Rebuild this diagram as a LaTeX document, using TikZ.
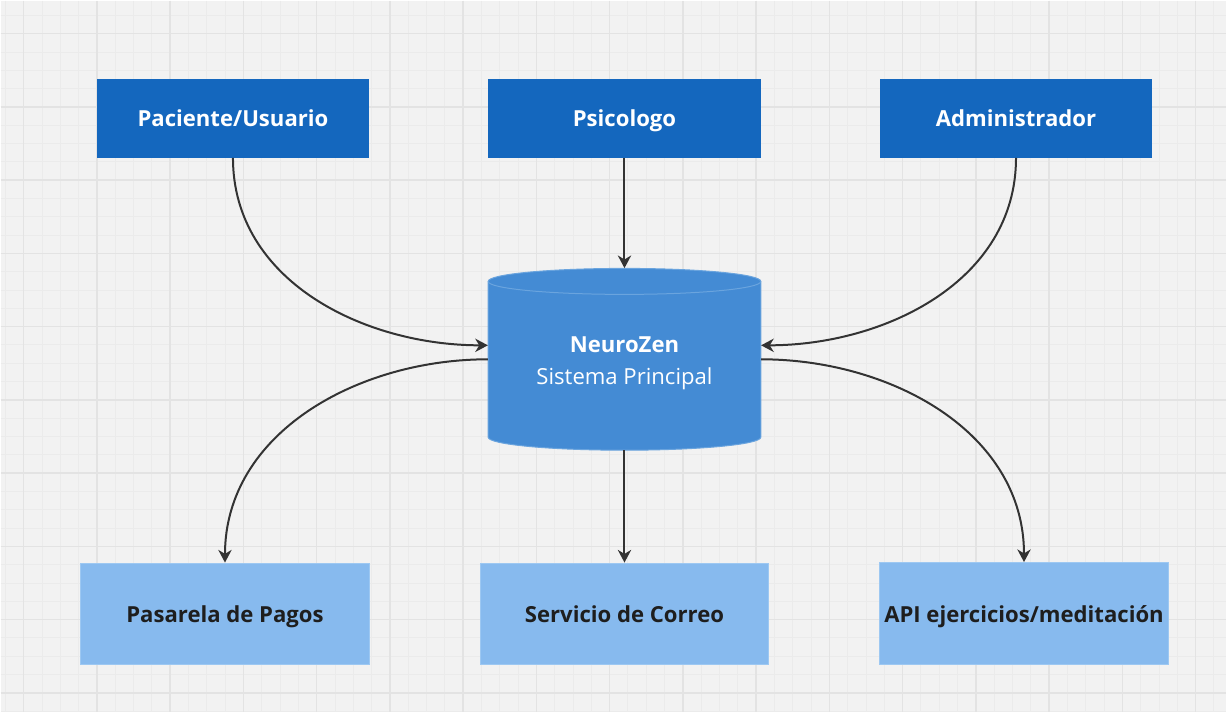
\documentclass[tikz,border=0pt]{standalone}
\usepackage{fontspec}
\setmainfont{Open Sans}
\usetikzlibrary{arrows.meta}

\definecolor{paper}{HTML}{F2F2F2}
\definecolor{gridmajor}{HTML}{E3E3E3}
\definecolor{gridminor}{HTML}{EBEBEB}
\definecolor{actorblue}{HTML}{1467BE}
\definecolor{coreblue}{HTML}{448BD4}
\definecolor{coreedge}{HTML}{6AA4DE}
\definecolor{extblue}{HTML}{87BAEE}
\definecolor{extedge}{HTML}{9DC8F2}
\definecolor{wire}{HTML}{333333}
\definecolor{ink}{HTML}{1E1E1E}

\begin{document}
\begin{tikzpicture}[x=0.75pt,y=-0.75pt,
    actor/.style={fill=actorblue,text=white,font=\fontsize{16.6}{24}\selectfont\bfseries,
      text height=16.5pt,text depth=3.6pt,
      minimum width=204.75pt,minimum height=59.25pt,inner sep=0pt},
    service/.style={fill=extblue,draw=extedge,line width=0.75pt,text=ink,font=\fontsize{16.6}{24}\selectfont\bfseries,
      text height=16.5pt,text depth=3.6pt,
      minimum width=216.75pt,minimum height=76.5pt,inner sep=0pt},
    link/.style={draw=wire,line width=1.5pt,-{Stealth[length=9.5pt,width=10pt,inset=3pt]}}]
        % canvas and grid
        \fill[paper] (0,0) rectangle (1227,712);
        \foreach \k in {0,...,66}
            \draw[gridminor,line width=0.75pt] ({4.67+18.333*\k},0) -- ({4.67+18.333*\k},712);
        \foreach \k in {0,...,38}
            \draw[gridminor,line width=0.75pt] (0,{14.67+18.333*\k}) -- (1227,{14.67+18.333*\k});
        \foreach \k in {0,...,16}
            \draw[gridmajor,line width=1.1pt] ({23+73.333*\k},0) -- ({23+73.333*\k},712);
        \foreach \k in {0,...,9}
            \draw[gridmajor,line width=1.1pt] (0,{33+73.333*\k}) -- (1227,{33+73.333*\k});

        % the main system, drawn as a cylinder
        \draw[fill=coreblue,draw=coreedge,line width=0.75pt] (488,281) -- (488,437)
            arc[start angle=180,end angle=360,x radius=102.375pt,y radius=9.75pt] -- (761,281)
            arc[start angle=0,end angle=180,x radius=102.375pt,y radius=9.75pt] -- cycle;
        \draw[coreedge,line width=0.75pt] (761,281)
            arc[start angle=0,end angle=-180,x radius=102.375pt,y radius=9.75pt];
        \node[minimum width=204.75pt,minimum height=136.5pt,inner sep=0pt] (core) at (624.5,359) {};
        \node[text=white,align=center,font=\fontsize{16.6}{24}\selectfont] (coretext) at (624.5,363)
            {\textbf{NeuroZen}\\Sistema Principal};

        \node[actor] (pac) at (232.5,117.5) {Paciente/Usuario};
        \node[actor] (psi) at (624.5,117.5) {Psicologo};
        \node[actor] (adm) at (1016.5,117.5) {Administrador};

        \node[service] (pay) at (224.5,614) {Pasarela de Pagos};
        \node[service] (mail) at (624.5,614) {Servicio de Correo};
        \node[service] (api) at (1024.5,613.5) {API ejercicios/meditación};

        \draw[link] (pac.south) to[out=-90,in=180] ([yshift=10.5pt]core.west);
        \draw[link] (psi) -- (core);
        \draw[link] (adm.south) to[out=-90,in=0] ([yshift=10.5pt]core.east);
        \draw[link] (core.west) to[out=180,in=90] (pay.north);
        \draw[link] (core) -- (mail);
        \draw[link] (core.east) to[out=0,in=90] (api.north);
\end{tikzpicture}
\end{document}
